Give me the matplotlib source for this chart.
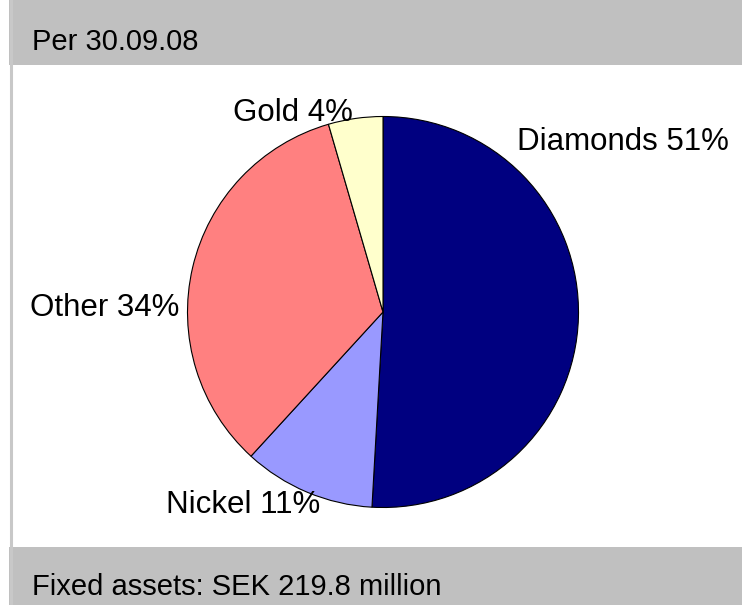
import matplotlib
matplotlib.use("Agg")
import matplotlib.pyplot as plt
from matplotlib.patches import Rectangle
from matplotlib.lines import Line2D

# data
assets = ["Diamonds", "Nickel", "Other", "Gold"]
shares = [50.9, 10.9, 33.7, 4.5]
share_labels = ["Diamonds 51%", "Nickel 11%", "Other 34%", "Gold 4%"]
colors = ["#000080", "#9999FF", "#FF8080", "#FFFFCC"]

header_text = "Per 30.09.08"
footer_text = "Fixed assets: SEK 219.8 million"

W, H = 742, 605
plt.rcParams["font.family"] = ["Liberation Sans", "DejaVu Sans"]

fig = plt.figure(figsize=(W / 100, H / 100), dpi=100)
fig.patch.set_facecolor("white")


def fx(px):
    return px / W


def fy(py):
    # pixel rows are counted from the top
    return 1 - py / H


# grey bands at top and bottom
fig.add_artist(Rectangle((fx(9), fy(65)), fx(W - 9), 65 / H,
                         transform=fig.transFigure, facecolor="#C0C0C0",
                         edgecolor="none", zorder=0))
fig.add_artist(Rectangle((fx(9), 0), fx(W - 9), (H - 547) / H,
                         transform=fig.transFigure, facecolor="#C0C0C0",
                         edgecolor="none", zorder=0))
# thin frame line on the left
fig.add_artist(Line2D([fx(10.5), fx(10.5)], [0, 1], transform=fig.transFigure,
                      color="#C8C8C8", linewidth=2.2, zorder=1))

# the band text in the original is a narrow face; a compromise size
fig.text(fx(32), fy(50), header_text, fontsize=21, ha="left", va="baseline")
fig.text(fx(32), fy(595), footer_text, fontsize=21, ha="left", va="baseline")

# pie: center (383, 312), radius 195.5 px
cx, cy, r = 383, 312, 195.5
ax = fig.add_axes([fx(cx - r), fy(cy + r), 2 * r / W, 2 * r / H])
ax.pie(shares, colors=colors, startangle=90, counterclock=False, radius=1,
       wedgeprops=dict(edgecolor="black", linewidth=0.8))
ax.set_xlim(-1, 1)
ax.set_ylim(-1, 1)
ax.set_aspect("auto")
ax.axis("off")

# label positions in pie units (Excel-style placement)
label_pos = {
    "Diamonds": (0.685, 0.829),
    "Nickel": (-1.110, -1.028),
    "Other": (-1.806, -0.020),
    "Gold": (-0.767, 0.977),
}
for name, text in zip(assets, share_labels):
    x, y = label_pos[name]
    ax.text(x, y, text, fontsize=22.5, ha="left", va="baseline", clip_on=False)

fig.savefig("out.png", dpi=100)
